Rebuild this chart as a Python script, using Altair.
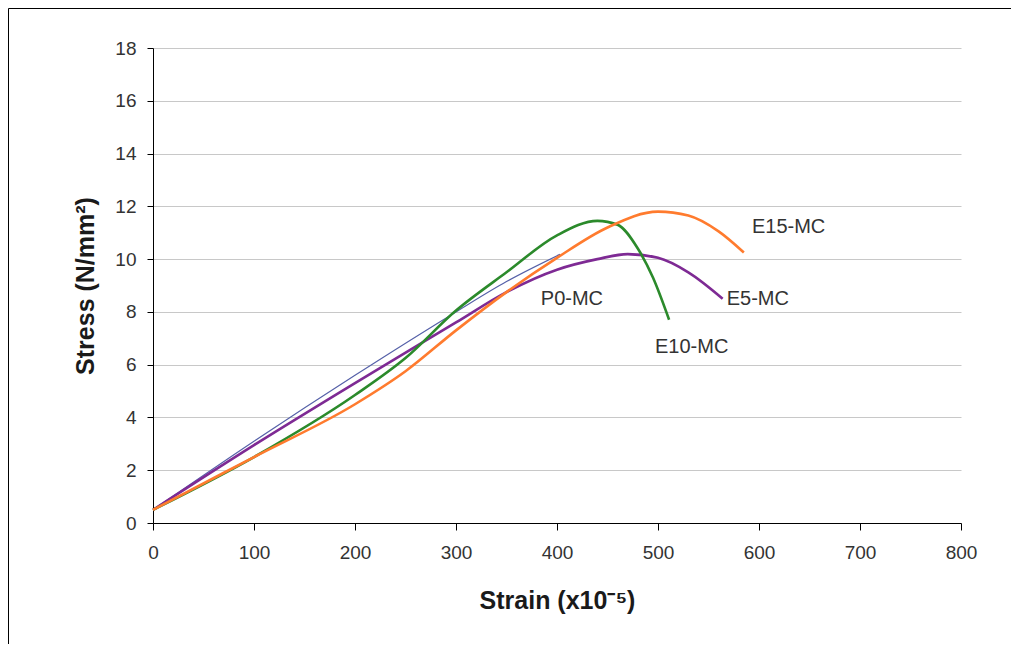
import altair as alt
import pandas as pd

# ---- data ----
p0_x = [0, 100, 200, 300, 350, 403]
p0_y = [0.5, 3.1, 5.6, 8.0, 9.15, 10.18]

e5_x = [0, 100, 200, 300, 350, 400, 440, 470, 500, 530, 564]
e5_y = [0.5, 2.95, 5.3, 7.6, 8.75, 9.6, 10.0, 10.19, 10.05, 9.5, 8.5]

e10_x = [0, 100, 200, 250, 300, 350, 400, 440, 460, 480, 495, 511]
e10_y = [0.5, 2.5, 4.85, 6.25, 8.05, 9.5, 10.9, 11.45, 11.3, 10.4, 9.3, 7.7]

e15_x = [0, 100, 200, 250, 300, 350, 400, 450, 500, 530, 560, 585]
e15_y = [0.5, 2.5, 4.5, 5.75, 7.3, 8.75, 10.05, 11.2, 11.8, 11.65, 11.05, 10.25]

series_names = ["P0-MC", "E5-MC", "E10-MC", "E15-MC"]
series_colors = ["#5560a8", "#7e2a94", "#2b8a2b", "#ff7b2e"]
series_widths = [1.2, 2.6, 2.6, 2.6]

label_text = ["P0-MC", "E5-MC", "E10-MC", "E15-MC"]
label_x = [384, 568, 497, 593]
label_y = [8.49, 8.49, 6.67, 11.2]

x_ticks = [0, 100, 200, 300, 400, 500, 600, 700, 800]
y_ticks = [0, 2, 4, 6, 8, 10, 12, 14, 16, 18]

all_x = [p0_x, e5_x, e10_x, e15_x]
all_y = [p0_y, e5_y, e10_y, e15_y]

labels = pd.DataFrame({"label": label_text, "strain": label_x, "stress": label_y})

FONT = "Liberation Sans"

xscale = alt.Scale(domain=[0, 800], nice=False, zero=True)
yscale = alt.Scale(domain=[0, 18], nice=False)

x_axis = alt.Axis(values=x_ticks, grid=False, title="Strain (x10⁻⁵)",
                  titleX=404, titleY=77, titleBaseline="middle",
                  tickSize=7, labelPadding=13, labelFontSize=19, labelFlush=False,
                  titleFontSize=25)
y_axis = alt.Axis(values=y_ticks, grid=True, title="Stress (N/mm²)",
                  titleX=-68, titleY=237.5, titleAngle=-90,
                  titleBaseline="middle", titleAlign="center",
                  tickSize=6, labelPadding=11, labelFontSize=19, labelFlush=False,
                  titleFontSize=25)

layers = []
for name, xs, ys, col, w in zip(series_names, all_x, all_y, series_colors, series_widths):
    d = pd.DataFrame({"strain": xs, "stress": ys, "order": list(range(len(xs)))})
    layers.append(
        alt.Chart(d).mark_line(interpolate="monotone", color=col, strokeWidth=w).encode(
            x=alt.X("strain:Q", scale=xscale, axis=x_axis),
            y=alt.Y("stress:Q", scale=yscale, axis=y_axis),
            order="order:Q")
    )

text = alt.Chart(labels).mark_text(align="left", baseline="middle", fontSize=20,
                                   font=FONT, color="#333333").encode(
    x=alt.X("strain:Q", scale=xscale, axis=x_axis),
    y=alt.Y("stress:Q", scale=yscale, axis=y_axis),
    text="label:N",
)

frame_left = alt.Chart(pd.DataFrame({"a": [0]})).mark_rule(color="#000000", strokeWidth=1).encode(
    x=alt.value(-144.5), y=alt.value(-39.5), y2=alt.value(640))
frame_top = alt.Chart(pd.DataFrame({"a": [0]})).mark_rule(color="#000000", strokeWidth=1).encode(
    x=alt.value(-144.5), x2=alt.value(900), y=alt.value(-39.5))

chart = alt.layer(*layers, text, frame_left, frame_top).properties(
    width=808, height=475,
    autosize=alt.AutoSizeParams(type="none"),
    padding={"left": 145, "top": 40, "right": 50, "bottom": 121},
    background="white",
).configure_view(stroke=None).configure_axis(
    labelFont=FONT, titleFont=FONT, labelColor="#333333", titleColor="#1a1a1a",
    titleFontWeight="bold", domainColor="#000000", tickColor="#000000",
    gridColor="#c8c8c8", gridWidth=1, domainWidth=1, tickWidth=1,
)

chart.save("out.html", embed_options={"renderer": "svg", "actions": False})
